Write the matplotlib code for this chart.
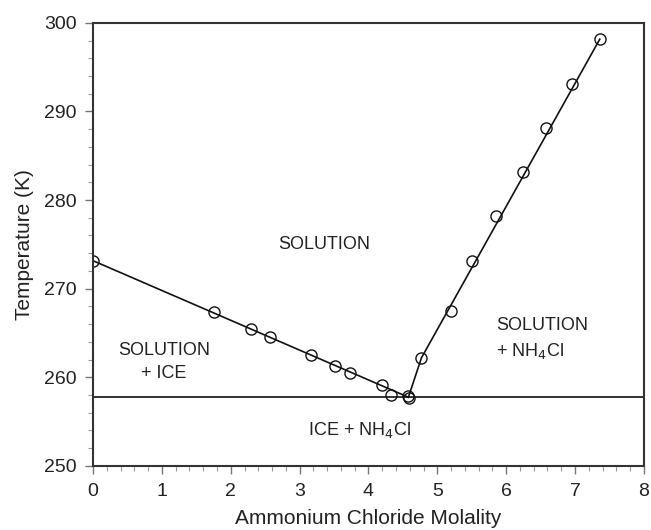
#!/usr/bin/env python3

"""
Phase diagram of the NH4Cl - H2O system (temperature vs molality).
"""

import matplotlib
matplotlib.use("Agg")
import matplotlib.pyplot as plt
from matplotlib.ticker import MultipleLocator

plt.rcParams['font.family'] = ['Liberation Sans', 'DejaVu Sans']

# ice branch (freezing points)
ice_m = [0.0, 1.75, 2.30, 2.57, 3.16, 3.51, 3.73, 4.19, 4.33, 4.57]
ice_T = [273.15, 267.4, 265.5, 264.5, 262.5, 261.3, 260.5, 259.1, 258.0, 257.9]

# NH4Cl branch (solubility)
salt_m = [4.59, 4.77, 5.20, 5.51, 5.85, 6.24, 6.58, 6.96, 7.36]
salt_T = [257.7, 262.2, 267.5, 273.1, 278.15, 283.15, 288.15, 293.1, 298.15]

# lines through the branches
ice_fit_m = [0.0, 4.58]
ice_fit_T = [273.15, 257.75]
salt_fit_m = [4.58, 4.77, 7.36]
salt_fit_T = [257.75, 262.2, 298.15]
eutectic_T = 257.75

fig = plt.figure(figsize=(6.51, 5.30), dpi=100)
ax = fig.add_axes([0.143, 0.121, 0.846, 0.836])

ax.plot(ice_fit_m, ice_fit_T, color='#111111', lw=1.2)
ax.plot(salt_fit_m, salt_fit_T, color='#111111', lw=1.2)
ax.axhline(eutectic_T, color='#111111', lw=1.2)

ax.plot(ice_m, ice_T, 'o', mfc='none', mec='#111111', ms=8, mew=1.0)
ax.plot(salt_m, salt_T, 'o', mfc='none', mec='#111111', ms=8, mew=1.0)

# region labels
ax.text(3.35, 275.0, 'SOLUTION', ha='center', va='center', fontsize=13, color='#222222')
ax.text(1.03, 261.7, 'SOLUTION\n+ ICE', ha='center', va='center', fontsize=13,
        color='#222222', linespacing=1.45)
ax.text(5.85, 264.3, 'SOLUTION\n+ NH$_4$Cl', ha='left', va='center', fontsize=13,
        color='#222222', linespacing=1.45)
ax.text(3.87, 254.0, 'ICE + NH$_4$Cl', ha='center', va='center', fontsize=13, color='#222222')

ax.set_xlim(0, 8)
ax.set_ylim(250, 300)
ax.xaxis.set_major_locator(MultipleLocator(1))
ax.xaxis.set_minor_locator(MultipleLocator(0.2))
ax.yaxis.set_major_locator(MultipleLocator(10))
ax.yaxis.set_minor_locator(MultipleLocator(2))

ax.tick_params(which='major', direction='out', length=6, width=1.0, color='#777777',
               labelsize=14, labelcolor='#222222', pad=6)
ax.tick_params(which='minor', direction='out', length=3.5, width=0.8, color='#999999')

for side in ['top', 'right', 'bottom', 'left']:
    ax.spines[side].set_linewidth(1.5)
    ax.spines[side].set_color('#333333')

ax.set_xlabel('Ammonium Chloride Molality', fontsize=15, color='#222222', labelpad=7)
ax.set_ylabel('Temperature (K)', fontsize=15, color='#222222', labelpad=7)

fig.savefig('out.png', dpi=100)
